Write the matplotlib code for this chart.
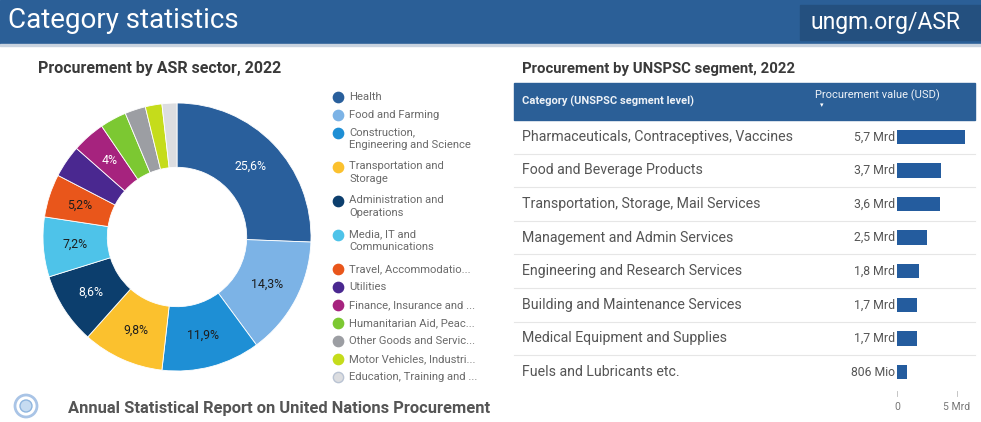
import matplotlib.pyplot as plt
from matplotlib.patches import Rectangle, Circle

plt.rcParams['font.family'] = ['Roboto', 'DejaVu Sans']

# ASR sector shares (%)
sectors = ['Health', 'Food and Farming', 'Construction,\nEngineering and Science',
           'Transportation and\nStorage', 'Administration and\nOperations',
           'Media, IT and\nCommunications', 'Travel, Accommodatio...', 'Utilities',
           'Finance, Insurance and ...', 'Humanitarian Aid, Peac...',
           'Other Goods and Servic...', 'Motor Vehicles, Industri...',
           'Education, Training and ...']
shares = [25.6, 14.3, 11.9, 9.8, 8.6, 7.2, 5.2, 3.9, 4.0, 3.2, 2.5, 2.0, 1.8]
sector_colors = ['#295f9c', '#7cb3e6', '#1e8fd5', '#fbc12e', '#0c3e6d', '#4ec3e9',
                 '#e9561b', '#4a2890', '#a6237e', '#7cc832', '#9c9ea3', '#c5dc1b',
                 '#dcdde0']
dark_label = [False, True, True, True, False, True, True, False, False,
              False, False, False, False]

# UNSPSC segments (billion USD)
segments = ['Pharmaceuticals, Contraceptives, Vaccines', 'Food and Beverage Products',
            'Transportation, Storage, Mail Services', 'Management and Admin Services',
            'Engineering and Research Services', 'Building and Maintenance Services',
            'Medical Equipment and Supplies', 'Fuels and Lubricants etc.']
values = [5.7, 3.7, 3.6, 2.5, 1.8, 1.7, 1.7, 0.806]
value_labels = ['5,7 Mrd', '3,7 Mrd', '3,6 Mrd', '2,5 Mrd', '1,8 Mrd', '1,7 Mrd',
                '1,7 Mrd', '806 Mio']

W, H = 981, 422
fig = plt.figure(figsize=(W / 100, H / 100), dpi=100)
fig.patch.set_facecolor('white')


def px_axes(x0, y0, x1, y1):
    return fig.add_axes([x0 / W, 1 - y1 / H, (x1 - x0) / W, (y1 - y0) / H])


# overlay axes in pixel coordinates
ov = fig.add_axes([0, 0, 1, 1])
ov.set_xlim(0, W)
ov.set_ylim(H, 0)
ov.axis('off')

blue = '#2b5f97'
ov.add_patch(Rectangle((0, 0), W, 44, color=blue))
ov.add_patch(Rectangle((0, 44), W, 2, color='#c9d3df'))
ov.text(8, 21, 'Category statistics', color='white', fontsize=20, va='center')
ov.add_patch(Rectangle((800, 5), 181, 35, color='#24507f'))
ov.text(886, 22, 'ungm.org/ASR', color='white', fontsize=16.5, va='center', ha='center')

ov.text(38, 69, 'Procurement by ASR sector, 2022', fontsize=11.5, fontweight='bold',
        color='#3a3a3a', va='center')
ov.text(522, 69, 'Procurement by UNSPSC segment, 2022', fontsize=10.7, fontweight='bold',
        color='#3a3a3a', va='center')

# footer
ov.add_patch(Circle((26, 406), 11, facecolor='none', edgecolor='#a9c4e6', lw=2))
ov.add_patch(Circle((26, 406), 6, facecolor='#c6dbf1', edgecolor='#8fb5de', lw=1))
ov.text(68, 408, 'Annual Statistical Report on United Nations Procurement',
        fontsize=11.9, fontweight='bold', color='#555555', va='center')

# donut
ax_d = px_axes(43, 103, 311, 371)
wedges, _, autotexts = ax_d.pie(shares, colors=sector_colors, startangle=90,
                                counterclock=False, autopct='%1.1f%%',
                                pctdistance=0.76,
                                wedgeprops=dict(width=0.48, edgecolor='white', linewidth=0.6))
for i, t in enumerate(autotexts):
    if shares[i] < 4:
        t.set_text('')
    else:
        s = '%.1f' % shares[i]
        if s.endswith('.0'):
            s = s[:-2]
        t.set_text(s.replace('.', ',') + '%')
    t.set_fontsize(8.8)
    t.set_color('#1d1d1d' if dark_label[i] else 'white')
ax_d.set_xlim(-1, 1)
ax_d.set_ylim(-1, 1)
ax_d.set_aspect('equal')

# legend
ly = 97
for name, col in zip(sectors, sector_colors):
    two = '\n' in name
    ov.scatter([338], [ly], s=55, color=col,
               edgecolor='#b9c3d3' if col == '#dcdde0' else col)
    ov.text(349, ly - 6 if two else ly, name, fontsize=8.1, color='#6a6a6a',
            va='top' if two else 'center', linespacing=1.35)
    ly += 34 if two else 18

# table
row_top, row_h = 120, 33.6
ov.add_patch(Rectangle((514, 83), 461, 37, color=blue))
ov.text(522, 101, 'Category (UNSPSC segment level)', fontsize=8, color='#eef2f7',
        fontweight='bold', va='center')
ov.text(815, 95, 'Procurement value (USD)', fontsize=8, color='#eef2f7', va='center')
ov.text(822, 106, '▾', fontsize=5, color='white', va='center', ha='center')
for i in range(1, len(segments)):
    yy = row_top + i * row_h
    ov.plot([514, 975], [yy, yy], color='#e6e6e6', lw=0.8)

ax_b = px_axes(897, row_top, 975, row_top + row_h * len(segments))
ypos = [i + 0.5 for i in range(len(segments))]
ax_b.barh(ypos, values, height=0.43, color='#245c9e')
ax_b.set_xlim(0, 6.5)
ax_b.set_ylim(len(segments), 0)
ax_b.axis('off')
tr = ax_b.get_yaxis_transform()
for y, seg, lab in zip(ypos, segments, value_labels):
    ax_b.text(-4.81, y, seg, transform=tr, fontsize=10.2, color='#555555', va='center')
    ax_b.text(-0.03, y, lab, transform=tr, fontsize=8.8, color='#555555', va='center',
              ha='right')
for v, lab in [(0, '0'), (5, '5 Mrd')]:
    ax_b.plot([v, v], [8.08, 8.2], color='#bbbbbb', lw=0.6, clip_on=False)
    ax_b.text(v, 8.55, lab, fontsize=7.5, color='#777777', ha='center', va='center')

fig.savefig('out.png', dpi=100)
